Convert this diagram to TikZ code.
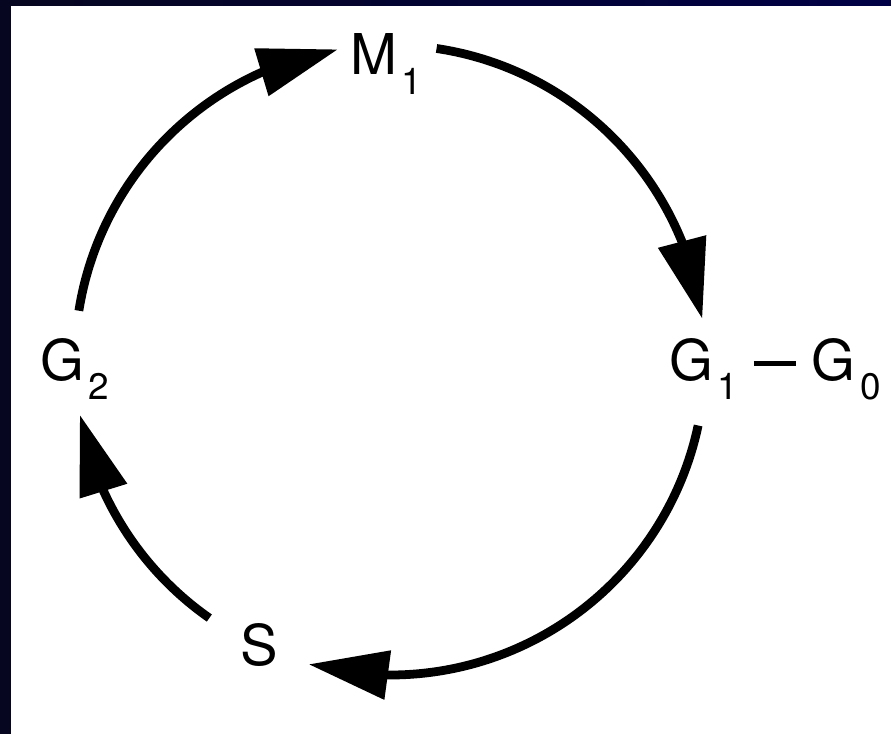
\documentclass[tikz,border=0pt]{standalone}
\usepackage{fontspec}
\setmainfont{TeX Gyre Heros}
\usepackage{tikz}
\usetikzlibrary{arrows.meta, bending, positioning, calc}
\definecolor{slideblue}{RGB}{0,0,70}
\definecolor{slidedark}{RGB}{6,6,32}
\newcommand{\phsub}[1]{\kern0.08em\raisebox{-0.34em}{\fontsize{21}{21}\selectfont #1}}
\newcommand{\phdash}{\hspace{0.28em}\rule[0.25em]{0.75em}{0.08em}\hspace{0.28em}}
\newcommand{\rad}{6.3}

\begin{document}
\begin{tikzpicture}[
    stage/.style={inner sep=0pt, anchor=base west, font=\fontsize{32}{38}\selectfont},
    phasearrow/.style={line width=5pt, -{Triangle[length=1.6cm, width=0.95cm]}},
    band/.style={fill=slidedark}
]
\useasboundingbox (0,0) rectangle (17.82,14.68);

% Slide frame
\fill[white] (0,0) rectangle (17.82,14.68);
\shade[left color=slidedark, right color=slideblue] (0,14.56) rectangle (17.82,14.68);
\fill[band] (0,0) rectangle (0.22,14.68);

% Phases
\coordinate (ctr) at (7.8,7.48);
\node[stage] (m1) at (7.00,13.18) {M\phsub{1}};
\node[stage] (g1) at (13.38,7.08) {G\phsub{1}\phdash G\phsub{0}};
\node[stage] (s) at (4.80,1.38) {S};
\node[stage] (g2) at (0.80,7.08) {G\phsub{2}};

% Cycle arrows
\draw[phasearrow] ([shift={(171:\rad)}]ctr) arc[start angle=171, end angle=99.5, radius=\rad];
\draw[phasearrow] ([shift={(81.5:\rad)}]ctr) arc[start angle=81.5, end angle=7.5, radius=\rad];
\draw[phasearrow] ([shift={(-12:\rad)}]ctr) arc[start angle=-12, end angle=-105, radius=\rad];
\draw[phasearrow] ([shift={(-125:\rad)}]ctr) arc[start angle=-125, end angle=-170, radius=\rad];

\end{tikzpicture}
\end{document}
